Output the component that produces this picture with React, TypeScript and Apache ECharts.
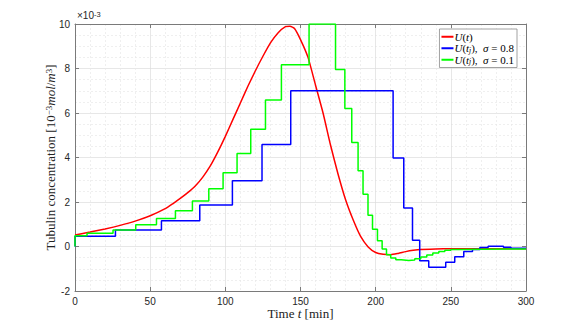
import React, { useEffect, useRef } from "react";
import * as echarts from "echarts";

// Continuous model output U(t) (x10^-3)
const redT = [0, 10, 20, 30, 40, 50, 60, 65, 70, 75, 80, 85, 90, 95, 100, 105, 110, 115, 120, 125, 130, 135, 140, 143, 146, 150, 155, 160, 165, 170, 175, 180, 185, 190, 195, 200, 205, 210, 215, 220, 225, 230, 240, 250, 300];
const redV = [0.52, 0.65, 0.79, 0.95, 1.14, 1.38, 1.7, 1.92, 2.16, 2.42, 2.72, 3.12, 3.62, 4.25, 4.95, 5.7, 6.45, 7.2, 7.9, 8.55, 9.15, 9.6, 9.88, 9.9, 9.8, 9.3, 8.5, 7.25, 6.0, 4.55, 3.25, 2.1, 1.2, 0.45, -0.02, -0.27, -0.35, -0.37, -0.31, -0.23, -0.17, -0.13, -0.11, -0.1, -0.1];

// Sampled U(t_j), sigma = 0.8 (step start times and levels)
const blueT = [0, 0, 26.9, 57.5, 83, 104.7, 124.4, 143.5, 211.6, 218.7, 224.5, 229.3, 235.3, 246.6, 252.6, 258.6, 264.4, 269.3, 274.8, 285, 290, 300];
const blueV = [0, 0.46, 0.74, 1.16, 1.87, 2.95, 4.58, 7.0, 3.98, 1.73, 0.28, -0.64, -0.93, -0.71, -0.46, -0.23, -0.13, -0.04, 0.01, -0.03, -0.08, -0.08];

// Sampled U(t_j), sigma = 0.1
const greenT = [0, 0, 8, 25.3, 40.4, 54.2, 66.8, 78.1, 89, 98.5, 107.8, 116.9, 126.7, 137.3, 155.7, 173.3, 179.5, 184.1, 188.3, 191.6, 194.9, 197.9, 201.2, 204.3, 207.2, 210, 213.4, 217, 222, 226, 230, 234, 238, 242, 246, 250, 255, 300];
const greenV = [0, 0.48, 0.6, 0.74, 0.98, 1.26, 1.61, 2.04, 2.59, 3.31, 4.18, 5.27, 6.58, 8.17, 10.0, 7.95, 6.2, 4.67, 3.4, 2.35, 1.41, 0.78, 0.26, -0.11, -0.37, -0.52, -0.6, -0.63, -0.61, -0.55, -0.47, -0.38, -0.29, -0.22, -0.17, -0.13, -0.11, -0.11];

const seriesNames = ["U(t)", "sigma08", "sigma01"];
const legendLabels: Record<string, string> = {
  "U(t)": "{i|U}{n|(}{i|t}{n|)}",
  sigma08: "{i|U}{n|(}{i|t}{sub|j}{n|),  }{i|σ}{n| = 0.8}",
  sigma01: "{i|U}{n|(}{i|t}{sub|j}{n|),  }{i|σ}{n| = 0.1}",
};

const serif = "'Liberation Serif', 'DejaVu Serif', serif";
const sans = "'Liberation Sans', Arial, sans-serif";

const zip = (a: number[], b: number[]) => a.map((x, i) => [x, b[i]]);

export default function App() {
  const ref = useRef<HTMLDivElement>(null);
  useEffect(() => {
    if (!ref.current) return;
    const chart = echarts.init(ref.current, null, { renderer: "svg" });
    const axisLineColor = "#7a7a7a";
    const labelStyle = { color: "#262626", fontSize: 10, fontFamily: sans };
    const mathRich = {
      n: { fontFamily: serif, fontSize: 13, fontWeight: "normal", color: "#222" },
      i: { fontFamily: serif, fontSize: 13, fontWeight: "normal", fontStyle: "italic", color: "#222" },
      sup: { fontFamily: serif, fontSize: 9, fontWeight: "normal", verticalAlign: "top", color: "#222" },
    };
    chart.setOption({
      animation: false,
      backgroundColor: "#fff",
      grid: { left: 75, right: 55, top: 24, bottom: 37 },
      xAxis: [
        {
          type: "value",
          min: 0,
          max: 300,
          interval: 50,
          position: "bottom",
          axisLine: { show: true, onZero: false, lineStyle: { color: axisLineColor, width: 1 } },
          axisTick: { show: true, inside: true, length: 4, lineStyle: { color: axisLineColor } },
          axisLabel: { ...labelStyle, margin: 5 },
          splitLine: { show: true, lineStyle: { color: "#dcdcdc", width: 0.7 } },
          minorTick: { show: false, splitNumber: 5 },
          minorSplitLine: { show: true, lineStyle: { color: "#e8e8e8", width: 0.7, type: [2, 2] } },
          name: "{n|Time }{i|t}{n| [min]}",
          nameLocation: "middle",
          nameGap: 16,
          nameMoveOverlap: false,
          nameTextStyle: { rich: mathRich, fontWeight: "normal", verticalAlign: "top" },
        },
        {
          type: "value",
          min: 0,
          max: 300,
          interval: 50,
          position: "top",
          axisLine: { show: true, onZero: false, lineStyle: { color: axisLineColor, width: 1 } },
          axisTick: { show: true, inside: true, length: 4, lineStyle: { color: axisLineColor } },
          axisLabel: { show: false },
          splitLine: { show: false },
        },
      ],
      yAxis: [
        {
          type: "value",
          min: -2,
          max: 10,
          interval: 2,
          position: "left",
          axisLine: { show: true, onZero: false, lineStyle: { color: axisLineColor, width: 1 } },
          axisTick: { show: true, inside: true, length: 4, lineStyle: { color: axisLineColor } },
          axisLabel: { ...labelStyle, margin: 5 },
          splitLine: { show: true, lineStyle: { color: "#dcdcdc", width: 0.7 } },
          minorTick: { show: false, splitNumber: 4 },
          minorSplitLine: { show: true, lineStyle: { color: "#e8e8e8", width: 0.7, type: [2, 2] } },
          name: "{n|Tubulin concentration [10}{sup|−3}{i|mol}{n|/}{i|m}{sup|3}{n|]}",
          nameLocation: "middle",
          nameRotate: 90,
          nameGap: 18,
          nameMoveOverlap: false,
          nameTextStyle: { rich: mathRich, fontWeight: "normal" },
        },
        {
          type: "value",
          min: -2,
          max: 10,
          interval: 2,
          position: "right",
          axisLine: { show: true, onZero: false, lineStyle: { color: axisLineColor, width: 1 } },
          axisTick: { show: true, inside: true, length: 4, lineStyle: { color: axisLineColor } },
          axisLabel: { show: false },
          splitLine: { show: false },
        },
      ],
      legend: {
        data: seriesNames,
        orient: "vertical",
        right: 64,
        top: 29,
        padding: [2, 3, 2, 2],
        itemGap: 0,
        itemWidth: 12,
        itemHeight: 2,
        icon: "rect",
        backgroundColor: "#fff",
        borderColor: "#8a8a8a",
        borderWidth: 0.8,
        borderRadius: 0,
        formatter: (name: string) => legendLabels[name],
        textStyle: {
          padding: [0, 0, 0, -4],
          lineHeight: 11.5,
          rich: {
            n: { fontFamily: serif, fontSize: 11, color: "#000", lineHeight: 11.5 },
            i: { fontFamily: serif, fontSize: 11, fontStyle: "italic", color: "#000", lineHeight: 11.5 },
            sub: { fontFamily: serif, fontSize: 7.5, fontStyle: "italic", color: "#000", verticalAlign: "bottom", lineHeight: 11.5 },
          },
        },
      },
      graphic: [
        {
          type: "text",
          left: 77,
          top: 10,
          style: {
            text: "×10{s|-3}",
            fill: "#262626",
            font: `10px ${sans}`,
            rich: { s: { fontSize: 7.5, fontFamily: sans, verticalAlign: "top", fill: "#262626" } },
          },
        },
      ],
      series: [
        {
          name: "U(t)",
          type: "line",
          data: zip(redT, redV),
          smooth: 0.2,
          showSymbol: false,
          lineStyle: { color: "#ff0000", width: 1.5 },
          itemStyle: { color: "#ff0000" },
        },
        {
          name: "sigma08",
          type: "line",
          step: "end",
          data: zip(blueT, blueV),
          showSymbol: false,
          lineStyle: { color: "#0000ff", width: 1.5 },
          itemStyle: { color: "#0000ff" },
        },
        {
          name: "sigma01",
          type: "line",
          step: "end",
          data: zip(greenT, greenV),
          showSymbol: false,
          lineStyle: { color: "#00ff00", width: 1.5 },
          itemStyle: { color: "#00ff00" },
        },
      ],
    });
    return () => chart.dispose();
  }, []);
  return <div ref={ref} style={{ width: 581, height: 328, position: "absolute", left: 0, top: 0 }} />;
}
